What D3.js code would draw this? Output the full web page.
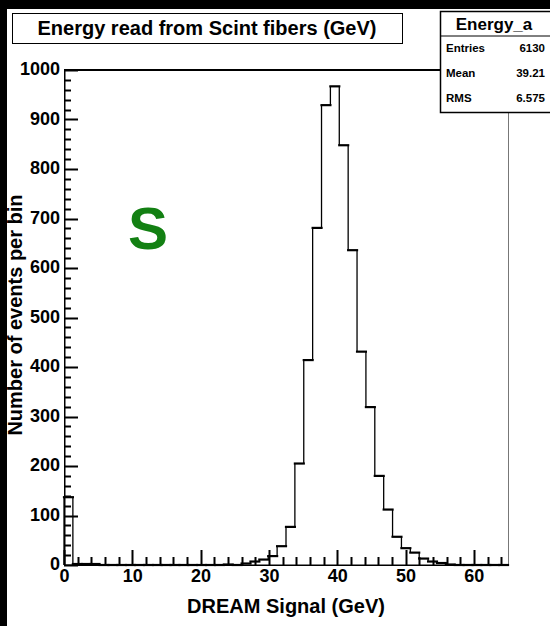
<!DOCTYPE html>
<html>
<head>
<meta charset="utf-8">
<script src="https://cdn.jsdelivr.net/npm/d3@7"></script>
<style>
  body { margin: 0; background: #fff; }
  text { font-family: "Liberation Sans", Arial, sans-serif; font-weight: bold; }
</style>
</head>
<body>
<div id="chart"></div>
<script>
// histogram: 50 bins from 0 to 65 GeV
var xRange = [0, 65];
var nBins = 50;
var counts = [137, 2, 2, 2, 0, 0, 0, 0, 0, 0,
              0, 0, 0, 0, 0, 0, 0, 0, 1, 0,
              3, 7, 11, 18, 38, 77, 205, 414, 681, 929,
              967, 848, 636, 431, 319, 180, 112, 57, 34, 25,
              13, 7, 4, 1, 0, 0, 0, 0, 0, 0];
var xTicks = [0, 10, 20, 30, 40, 50, 60];
var yTicks = [0, 100, 200, 300, 400, 500, 600, 700, 800, 900, 1000];
var statLabels = ["Entries", "Mean", "RMS"];
var statValues = ["6130", "39.21", "6.575"];

var W = 550, H = 626;
var svg = d3.select("#chart").append("svg")
    .attr("width", W)
    .attr("height", H);

svg.append("rect").attr("width", W).attr("height", H).attr("fill", "#fff");
// black canvas edges
svg.append("rect").attr("x", 0).attr("y", 0).attr("width", W).attr("height", 9).attr("fill", "#000");
svg.append("rect").attr("x", 0).attr("y", 0).attr("width", 7).attr("height", H).attr("fill", "#000");

var x = d3.scaleLinear().domain(xRange).range([64, 508]);
var y = d3.scaleLinear().domain([0, 1000]).range([565, 70]);

var binW = (xRange[1] - xRange[0]) / nBins;
var bins = counts.map(function(c, i) { return { x0: xRange[0] + i * binW, x1: xRange[0] + (i + 1) * binW, c: c }; });

// frame
svg.append("rect").attr("x", 508).attr("y", 70).attr("width", 1).attr("height", 495).attr("fill", "#777");
svg.append("rect").attr("x", 64).attr("y", 69).attr("width", 445).attr("height", 2).attr("fill", "#000");
svg.append("rect").attr("x", 64).attr("y", 69).attr("width", 1.5).attr("height", 497).attr("fill", "#000");
svg.append("rect").attr("x", 64).attr("y", 564.5).attr("width", 445).attr("height", 1.5).attr("fill", "#000");

// ticks (drawn as thin filled rects)
var tickG = svg.append("g").attr("class", "ticks");
var xMinor = d3.range(0, 65, 2);
tickG.selectAll("rect.xt")
    .data(xMinor)
    .enter()
    .append("rect")
    .attr("class", "xt")
    .attr("x", function(d) { return Math.round(x(d)) - 0.5; })
    .attr("width", 2)
    .attr("y", function(d) { return d % 10 === 0 ? 550 : 557; })
    .attr("height", function(d) { return d % 10 === 0 ? 15 : 8; })
    .attr("fill", "#000");
var yMinor = d3.range(0, 1001, 20);
tickG.selectAll("rect.yt")
    .data(yMinor)
    .enter()
    .append("rect")
    .attr("class", "yt")
    .attr("x", 64)
    .attr("y", function(d) { return Math.round(y(d)) - 0.5; })
    .attr("width", function(d) { return d % 100 === 0 ? 14 : 7; })
    .attr("height", 2)
    .attr("fill", "#000");

// tick labels
var xAxis = svg.append("g")
    .attr("transform", "translate(0,565)")
    .call(d3.axisBottom(x).tickValues(xTicks).tickSize(0).tickPadding(4).tickFormat(d3.format("d")));
var yAxis = svg.append("g")
    .attr("transform", "translate(64,0)")
    .call(d3.axisLeft(y).tickValues(yTicks).tickSize(0).tickPadding(4).tickFormat(d3.format("d")));

[xAxis, yAxis].forEach(function(g) {
    g.selectAll("text").attr("font-size", 18).attr("fill", "#000")
        .style("font-family", "'Liberation Sans', Arial, sans-serif").style("font-weight", "bold");
    g.select(".domain").remove();
});
yAxis.selectAll("text").attr("dy", "0.25em");

// histogram outline
var hist = svg.append("g");
hist.selectAll("line.h")
    .data(bins)
    .enter()
    .append("line")
    .attr("class", "h")
    .attr("x1", function(d) { return x(d.x0); })
    .attr("x2", function(d) { return x(d.x1); })
    .attr("y1", function(d) { return y(d.c); })
    .attr("y2", function(d) { return y(d.c); })
    .attr("stroke", "#000")
    .attr("stroke-width", 2.2)
    .attr("stroke-linecap", "square");
hist.selectAll("line.v")
    .data(bins)
    .enter()
    .append("line")
    .attr("class", "v")
    .attr("x1", function(d) { return x(d.x0); })
    .attr("x2", function(d) { return x(d.x0); })
    .attr("y1", function(d, i) { return y(i === 0 ? 0 : bins[i - 1].c); })
    .attr("y2", function(d) { return y(d.c); })
    .attr("stroke", "#000")
    .attr("stroke-width", 1.3);

// title box
svg.append("rect").attr("x", 12.5).attr("y", 13.5).attr("width", 390).attr("height", 30)
    .attr("fill", "#fff").attr("stroke", "#000").attr("stroke-width", 1);
svg.append("text").attr("x", 207).attr("y", 35).attr("text-anchor", "middle")
    .attr("font-size", 20).text("Energy read from Scint fibers (GeV)");

// stats box
svg.append("rect").attr("x", 440.5).attr("y", 11.5).attr("width", 120).attr("height", 101)
    .attr("fill", "#fff").attr("stroke", "#000").attr("stroke-width", 1.5);
svg.append("line").attr("x1", 440).attr("x2", 550).attr("y1", 36).attr("y2", 36)
    .attr("stroke", "#000").attr("stroke-width", 1);
svg.append("text").attr("x", 494).attr("y", 30).attr("text-anchor", "middle")
    .attr("font-size", 17).text("Energy_a");
svg.selectAll("text.slab")
    .data(statLabels)
    .enter()
    .append("text")
    .attr("class", "slab")
    .attr("x", 446)
    .attr("y", function(d, i) { return 52 + i * 25; })
    .attr("font-size", 11.5)
    .text(function(d) { return d; });
svg.selectAll("text.sval")
    .data(statValues)
    .enter()
    .append("text")
    .attr("class", "sval")
    .attr("x", 545)
    .attr("y", function(d, i) { return 52 + i * 25; })
    .attr("text-anchor", "end")
    .attr("font-size", 11.5)
    .text(function(d) { return d; });

// axis titles
svg.append("text").attr("x", 286).attr("y", 613).attr("text-anchor", "middle")
    .attr("font-size", 20).text("DREAM Signal (GeV)");
svg.append("text")
    .attr("transform", "translate(22,315) rotate(-90)")
    .attr("text-anchor", "middle")
    .attr("font-size", 20)
    .text("Number of events per bin");

// big S label
svg.append("text").attr("x", 148).attr("y", 249).attr("text-anchor", "middle")
    .attr("font-size", 60).attr("fill", "#138013").text("S");
</script>
</body>
</html>
